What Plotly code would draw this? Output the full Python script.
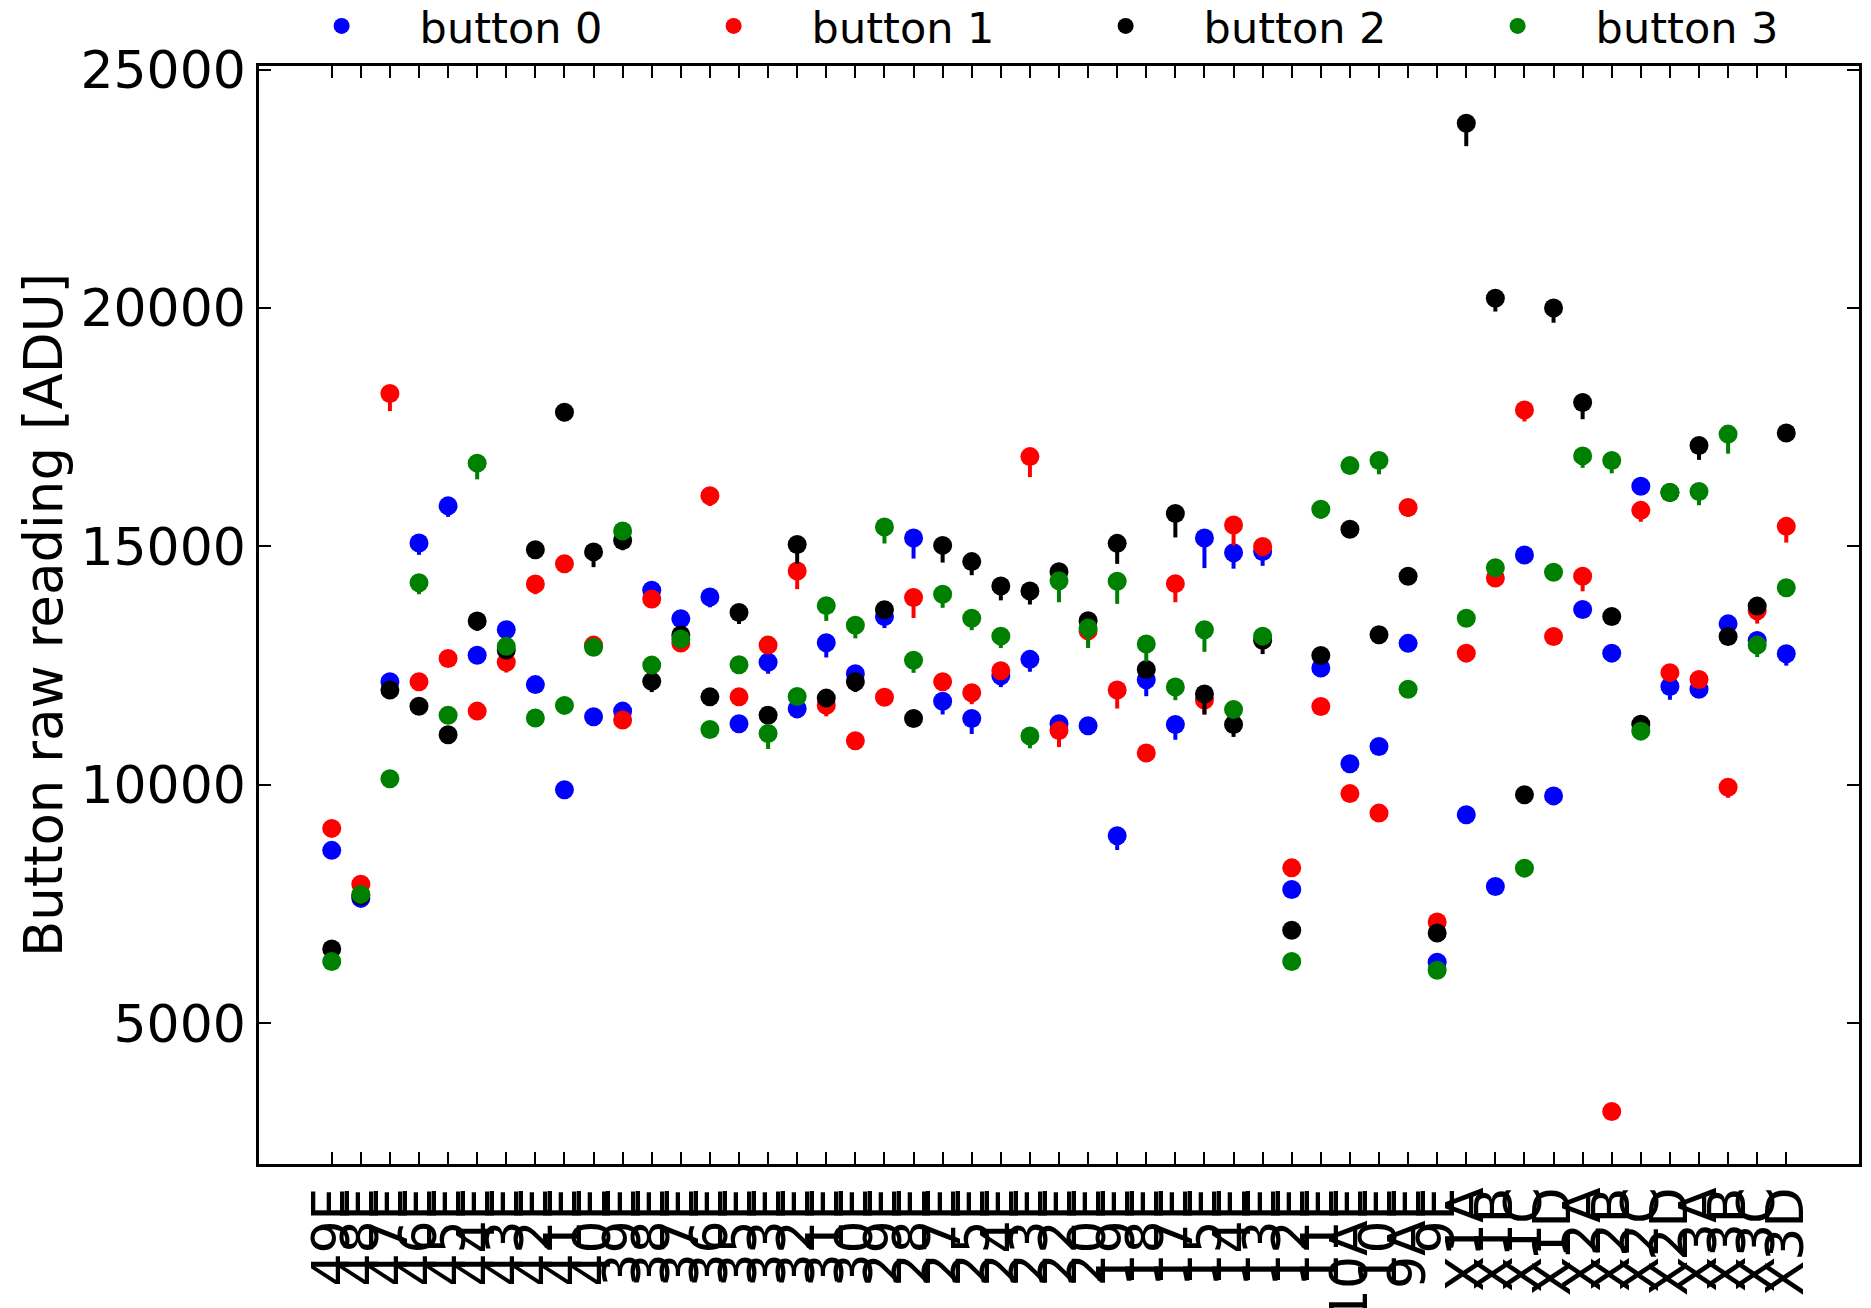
import plotly.graph_objects as go

labels = ["49E","48E","47E","46E","45E","44E","43E","42E","41E","40E",
          "39E","38E","37E","36E","35E","33E","32E","31E","30E",
          "29E","28E","27E","25E","24E","23E","22E","20E",
          "19E","18E","17E","15E","14E","13E","12E","11E",
          "10AE","10E","9AE","9E",
          "X1A","X1B","X1C","X1D","X2A","X2B","X2C","X2D","X3A","X3B","X3C","X3D"]

button0 = [8627, 7620, 12162, 15074, 15851, 12718, 13255, 12103, 9899, 11428,
           11547, 14084, 13485, 13939, 11283, 12571, 11598, 12982, 12333,
           13528, 15176, 11752, 11393, 12290, 12632, 11283, 11240,
           8934, 12205, 11266, 15176, 14869, 14894, 7808, 12450,
           10442, 10803, 12968, 6281,
           9372, 7869, 14819, 9769, 13677, 12763, 16263, 12065, 12006, 13377, 13027, 12751]
button1 = [9088, 7918, 18208, 12162, 12649, 11547, 12571, 14212, 14639, 12931,
           11359, 13896, 12974, 16065, 11846, 12931, 14485, 11667, 10924,
           11837, 13930, 12162, 11932, 12393, 16884, 11138, 13229,
           11991, 10668, 14220, 11778, 15450, 14997, 8260, 11645,
           9817, 9408, 15817, 7123,
           12763, 14339, 17861, 13112, 14374, 3150, 15757, 12354, 12210, 9949, 13652, 15421]
button2 = [6561, 7674, 11991, 11649, 11052, 13435, 12828, 14929, 17815, 14886,
           15125, 12171, 13144, 11846, 13614, 11462, 15039, 11820, 12162,
           13673, 11393, 15022, 14682, 14169, 14067, 14468, 13443,
           15065, 12418, 15689, 11906, 11266, 13033, 6953, 12715,
           15360, 13148, 14374, 6895,
           23874, 20206, 9793, 20002, 18018, 13533, 11271, 16130, 17116, 13112, 13749, 17381]
button3 = [6296, 7704, 10129, 14238, 11462, 16747, 12905, 11402, 11667, 12887,
           15322, 12512, 13058, 11162, 12521, 11077, 11855, 13759, 13349,
           15407, 12615, 13998, 13494, 13119, 11027, 14280, 13290,
           14271, 12956, 12051, 13255, 11582, 13119, 6296, 15781,
           16695, 16803, 12006, 6113,
           13496, 14555, 8254, 14458, 16899, 16803, 11127, 16130, 16154, 17356, 12931, 14134]

err0 = [120, 120, 120, 250, 230, 120, 120, 120, 120, 120,
        120, 120, 120, 215, 120, 240, 200, 310, 120,
        240, 430, 275, 325, 240, 260, 120, 120,
        300, 345, 320, 630, 335, 300, 120, 120,
        120, 120, 120, 120,
        120, 120, 120, 120, 120, 120, 120, 280, 120, 120, 120, 250]
err1 = [120, 120, 370, 120, 120, 120, 215, 215, 120, 120,
        120, 120, 120, 215, 120, 120, 380, 230, 120,
        120, 430, 120, 240, 120, 430, 345, 300,
        390, 120, 390, 300, 430, 200, 120, 120,
        120, 120, 200, 120,
        120, 120, 240, 120, 315, 120, 240, 120, 120, 220, 270, 340]
err2 = [120, 120, 120, 120, 120, 205, 120, 120, 190, 320,
        205, 225, 120, 120, 240, 120, 400, 120, 215,
        120, 120, 360, 285, 300, 285, 120, 120,
        430, 120, 500, 430, 260, 290, 120, 120,
        120, 120, 120, 120,
        480, 280, 120, 310, 350, 120, 120, 120, 300, 120, 120, 120]
err3 = [120, 120, 120, 240, 120, 340, 120, 120, 120, 120,
        120, 120, 120, 120, 120, 325, 120, 320, 275,
        345, 265, 285, 250, 250, 260, 450, 420,
        475, 370, 275, 465, 120, 120, 120, 200,
        150, 290, 120, 120,
        120, 120, 120, 120, 250, 270, 120, 120, 290, 410, 250, 120]

series = [("button 0", button0, err0, "#0000ff"),
          ("button 1", button1, err1, "#ff0000"),
          ("button 2", button2, err2, "#000000"),
          ("button 3", button3, err3, "#008000")]

FONT = "DejaVu Sans"
fig = go.Figure()
for name, vals, errs, col in series:
    fig.add_trace(go.Scatter(
        x=labels, y=vals, mode="markers", name=name,
        marker=dict(color=col, size=19, line=dict(width=0)),
        error_y=dict(type="data", symmetric=False, array=[0] * len(errs),
                     arrayminus=errs, color=col, thickness=4, width=0),
    ))

fig.update_layout(
    width=1871, height=1308,
    template="none",
    paper_bgcolor="white", plot_bgcolor="white",
    margin=dict(l=259, r=12, t=66, b=144, autoexpand=False),
    font=dict(family=FONT, color="black", size=52),
    showlegend=True,
    legend=dict(orientation="h", xref="container", yref="container",
                x=0.1409, xanchor="left", y=1 - 26 / 1308, yanchor="middle",
                font=dict(size=43, family=FONT, color="black"),
                itemwidth=146, entrywidth=231, entrywidthmode="pixels",
                bgcolor="rgba(0,0,0,0)", borderwidth=0),
)
fig.update_xaxes(
    type="category", tickmode="array", tickvals=labels, ticktext=labels,
    tickangle=-90, ticks="inside", ticklen=12, tickwidth=2, tickcolor="black",
    showline=True, linewidth=2.5, linecolor="black", mirror="ticks",
    range=[-2.5, 52.5], showgrid=False, zeroline=False,
    tickfont=dict(size=52, family=FONT, color="black"),
    automargin=False,
)
fig.update_yaxes(
    range=[2050, 25075], tickmode="array",
    tickvals=[5000, 10000, 15000, 20000, 25000],
    ticktext=["5000", "10000", "15000", "20000", "25000"],
    ticks="inside", ticklen=12, tickwidth=2, tickcolor="black",
    showline=True, linewidth=2.5, linecolor="black", mirror="ticks",
    showgrid=False, zeroline=False,
    tickfont=dict(size=52, family=FONT, color="black"),
    title=dict(text="Button raw reading [ADU]", font=dict(size=53, family=FONT, color="black"),
               standoff=1),
    automargin=False,
)

fig.write_html("out.html", config={"displayModeBar": False},
               post_script="document.body.style.margin='0';document.body.style.overflow='hidden';")
